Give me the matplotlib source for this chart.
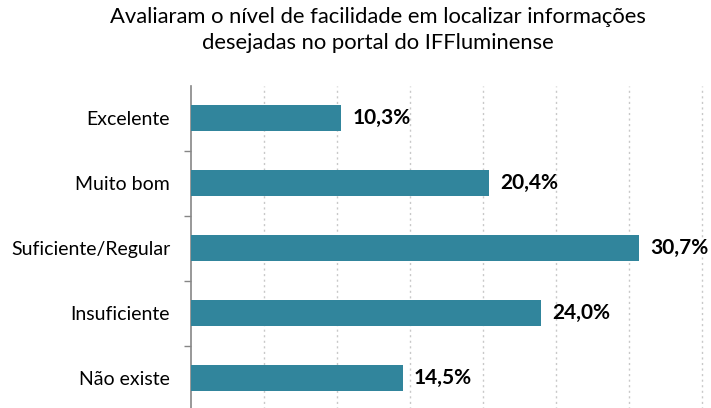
import matplotlib.pyplot as plt

categories = ["Excelente", "Muito bom", "Suficiente/Regular", "Insuficiente", "Não existe"]
values = [10.3, 20.4, 30.7, 24.0, 14.5]
labels = ["10,3%", "20,4%", "30,7%", "24,0%", "14,5%"]

plt.rcParams['font.family'] = ['Lato', 'DejaVu Sans']

fig = plt.figure(figsize=(7.11, 4.08), dpi=100)
# axes run a bit past the right/bottom edge, like the cropped original
ax = fig.add_axes([191 / 711, 1 - 410.5 / 408, 584 / 711, 324.7 / 408])

pos = list(range(len(categories)))
ax.barh(pos, values, height=0.4, color="#31859C", zorder=3)
for p, v, t in zip(pos, values, labels):
    ax.annotate(t, (v, p), xytext=(8, 0), textcoords="offset points",
                va="center", ha="left", fontsize=15, fontweight="bold", color="black")

ax.set_xlim(0, 40)
ax.set_ylim(len(categories) - 0.5, -0.5)
ax.set_xticks(range(5, 40, 5))
ax.tick_params(axis="x", length=0, labelbottom=False)
ax.xaxis.grid(True, linestyle=(0, (1.5, 2.5)), color="#c8c8c8", linewidth=1, zorder=0)

ax.set_yticks(pos, categories, fontsize=14)
ax.set_yticks([p + 0.5 for p in pos[:-1]], minor=True)
ax.tick_params(axis="y", which="major", length=0, pad=15)
ax.tick_params(axis="y", which="minor", length=5, width=1, color="#868686")

for s in ["top", "right", "bottom"]:
    ax.spines[s].set_visible(False)
ax.spines["left"].set_color("#868686")
ax.spines["left"].set_linewidth(1.2)

fig.text(378 / 711, 1 - 30 / 408,
         "Avaliaram o nível de facilidade em localizar informações\ndesejadas no portal do IFFluminense",
         ha="center", va="center", fontsize=15.8, linespacing=1.33)

fig.savefig("out.png", dpi=100)
